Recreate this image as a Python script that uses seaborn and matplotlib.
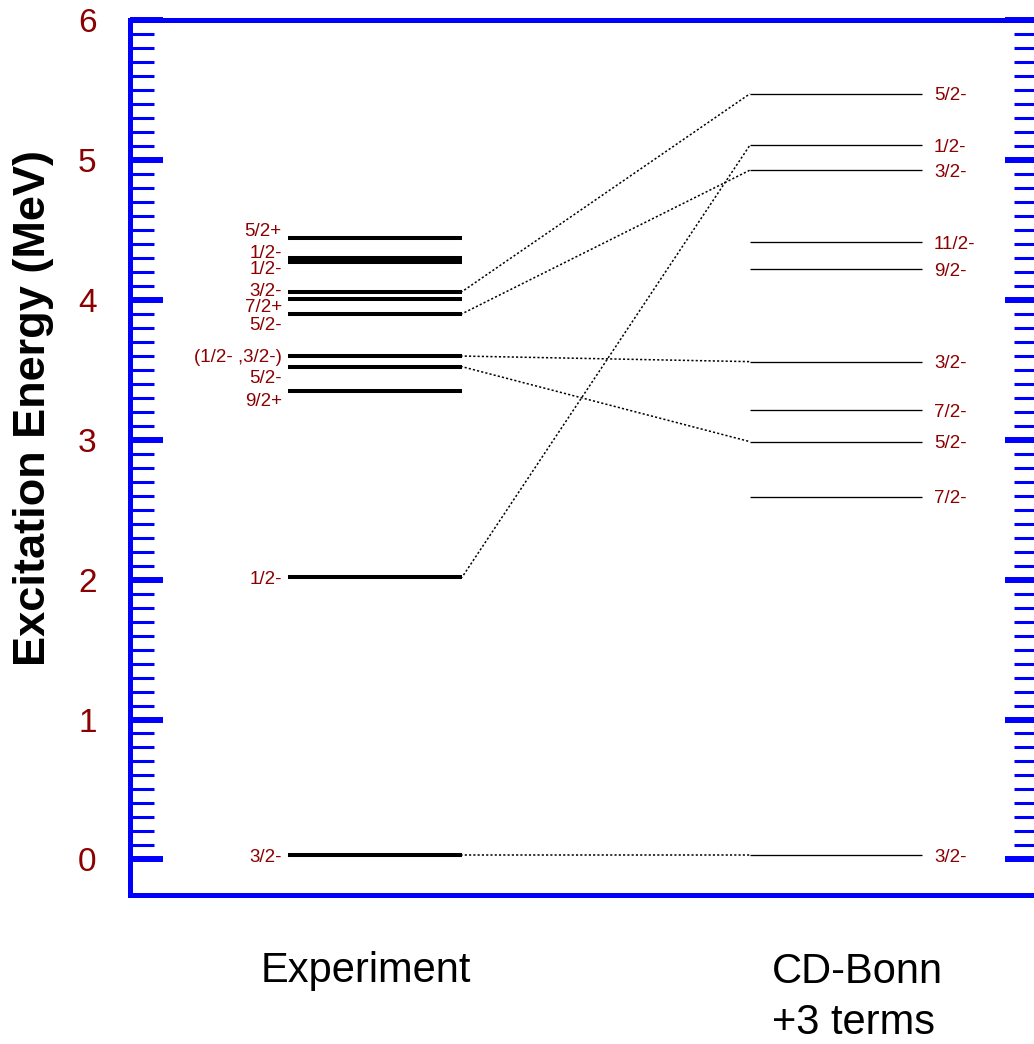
import numpy as np
import pandas as pd
import matplotlib
matplotlib.use("Agg")
import matplotlib.pyplot as plt
import seaborn as sns
from matplotlib.ticker import FixedLocator

# ---------------- data ----------------
exp_labels = ['3/2-', '1/2-', '9/2+', '5/2-', '(1/2- ,3/2-)', '5/2-', '7/2+', '3/2-', '1/2-', '1/2-', '5/2+']
exp_energy = [0.03, 2.016, 3.345, 3.522, 3.598, 3.90, 4.008, 4.058, 4.27, 4.30, 4.444]

th_labels = ['3/2-', '7/2-', '5/2-', '7/2-', '3/2-', '9/2-', '11/2-', '3/2-', '1/2-', '5/2-']
th_energy = [0.03, 2.593, 2.986, 3.212, 3.558, 4.217, 4.412, 4.927, 5.106, 5.473]

# links: index into experiment levels -> index into theory levels
link_exp = [0, 1, 3, 4, 5, 7]
link_th = [0, 8, 2, 4, 7, 9]

column_titles = ['Experiment', 'CD-Bonn\n+3 terms']
y_ticks = [0, 1, 2, 3, 4, 5, 6]
y_label = 'Excitation Energy (MeV)'

# ---------------- layout ----------------
exp_label_y = [0.03, 2.016, 3.288, 3.453, 3.603, 3.831, 3.96, 4.076, 4.234, 4.347, 4.506]
EXP_X = (0.174, 0.3656)
TH_X = (0.6828, 0.8722)
DARKRED = '#8B0000'
BLUE = '#0000FF'

sns.set_theme(style='white')
plt.rcParams['font.family'] = ['Liberation Sans', 'DejaVu Sans']

W, H = 1034, 1044
fig = plt.figure(figsize=(W / 100, H / 100), dpi=100)
ax = fig.add_axes([130 / W, 1 - 895 / H, 908 / W, 875 / H])


def level_frame(energies, xr):
    rows = []
    for i, e in enumerate(energies):
        rows.append({'x': xr[0], 'E': e, 'id': i})
        rows.append({'x': xr[1], 'E': e, 'id': i})
    return pd.DataFrame(rows)


df_exp = level_frame(exp_energy, EXP_X)
df_th = level_frame(th_energy, TH_X)

sns.lineplot(data=df_exp, x='x', y='E', units='id', estimator=None, sort=False,
             color='black', lw=2.9, ax=ax, solid_capstyle='butt')
sns.lineplot(data=df_th, x='x', y='E', units='id', estimator=None, sort=False,
             color='black', lw=0.95, ax=ax, solid_capstyle='butt')

link_rows = []
for k, (i, j) in enumerate(zip(link_exp, link_th)):
    link_rows.append({'x': EXP_X[1], 'E': exp_energy[i], 'id': k})
    link_rows.append({'x': TH_X[0], 'E': th_energy[j], 'id': k})
df_link = pd.DataFrame(link_rows)
sns.lineplot(data=df_link, x='x', y='E', units='id', estimator=None, sort=False,
             color='black', lw=1.1, ax=ax, linestyle=(1, (1.4, 1.4)))

# level labels
for lab, yl in zip(exp_labels, exp_label_y):
    ax.text(EXP_X[0] - 0.007, yl, lab, ha='right', va='center_baseline',
            fontsize=13.5, color=DARKRED)
for lab, e in zip(th_labels, th_energy):
    ax.text(TH_X[1] + 0.0133, e, lab, ha='left', va='center_baseline',
            fontsize=13.5, color=DARKRED)

# axes styling
ax.set_xlim(0, 1)
ax.set_ylim(6 - 875 / 139.9, 6)
ax.set_xlabel('')
ax.set_ylabel('')
ax.set_xticks([])
ax.yaxis.set_major_locator(FixedLocator(y_ticks))
minor = [round(v, 1) for v in np.arange(0, 6.001, 0.1) if abs(v - round(v)) > 1e-6]
ax.yaxis.set_minor_locator(FixedLocator(minor))
ax.tick_params(axis='y', which='major', direction='in', length=24, width=4.3,
               color=BLUE, left=True, right=True, labelsize=24,
               labelcolor=DARKRED, pad=24)
ax.tick_params(axis='y', which='minor', direction='in', length=17, width=2.2,
               color=BLUE, left=True, right=True)
for s in ax.spines.values():
    s.set_visible(True)
    s.set_color(BLUE)
    s.set_linewidth(3.6)
ax.grid(False)

# column titles (baselines in pixel rows)
fig.text(365.5 / W, 1 - 982 / H, column_titles[0], ha='center', va='baseline',
         fontsize=30, color='black')
for n, line in enumerate(column_titles[1].split('\n')):
    fig.text(772 / W, 1 - (983 + 51 * n) / H, line, ha='left', va='baseline',
             fontsize=30, color='black')

fig.text(45 / W, 1 - 408 / H, y_label, rotation=90, rotation_mode='anchor',
         ha='center', va='baseline', fontsize=32.5, fontweight='bold',
         color='black')

fig.savefig('out.png', dpi=100)
